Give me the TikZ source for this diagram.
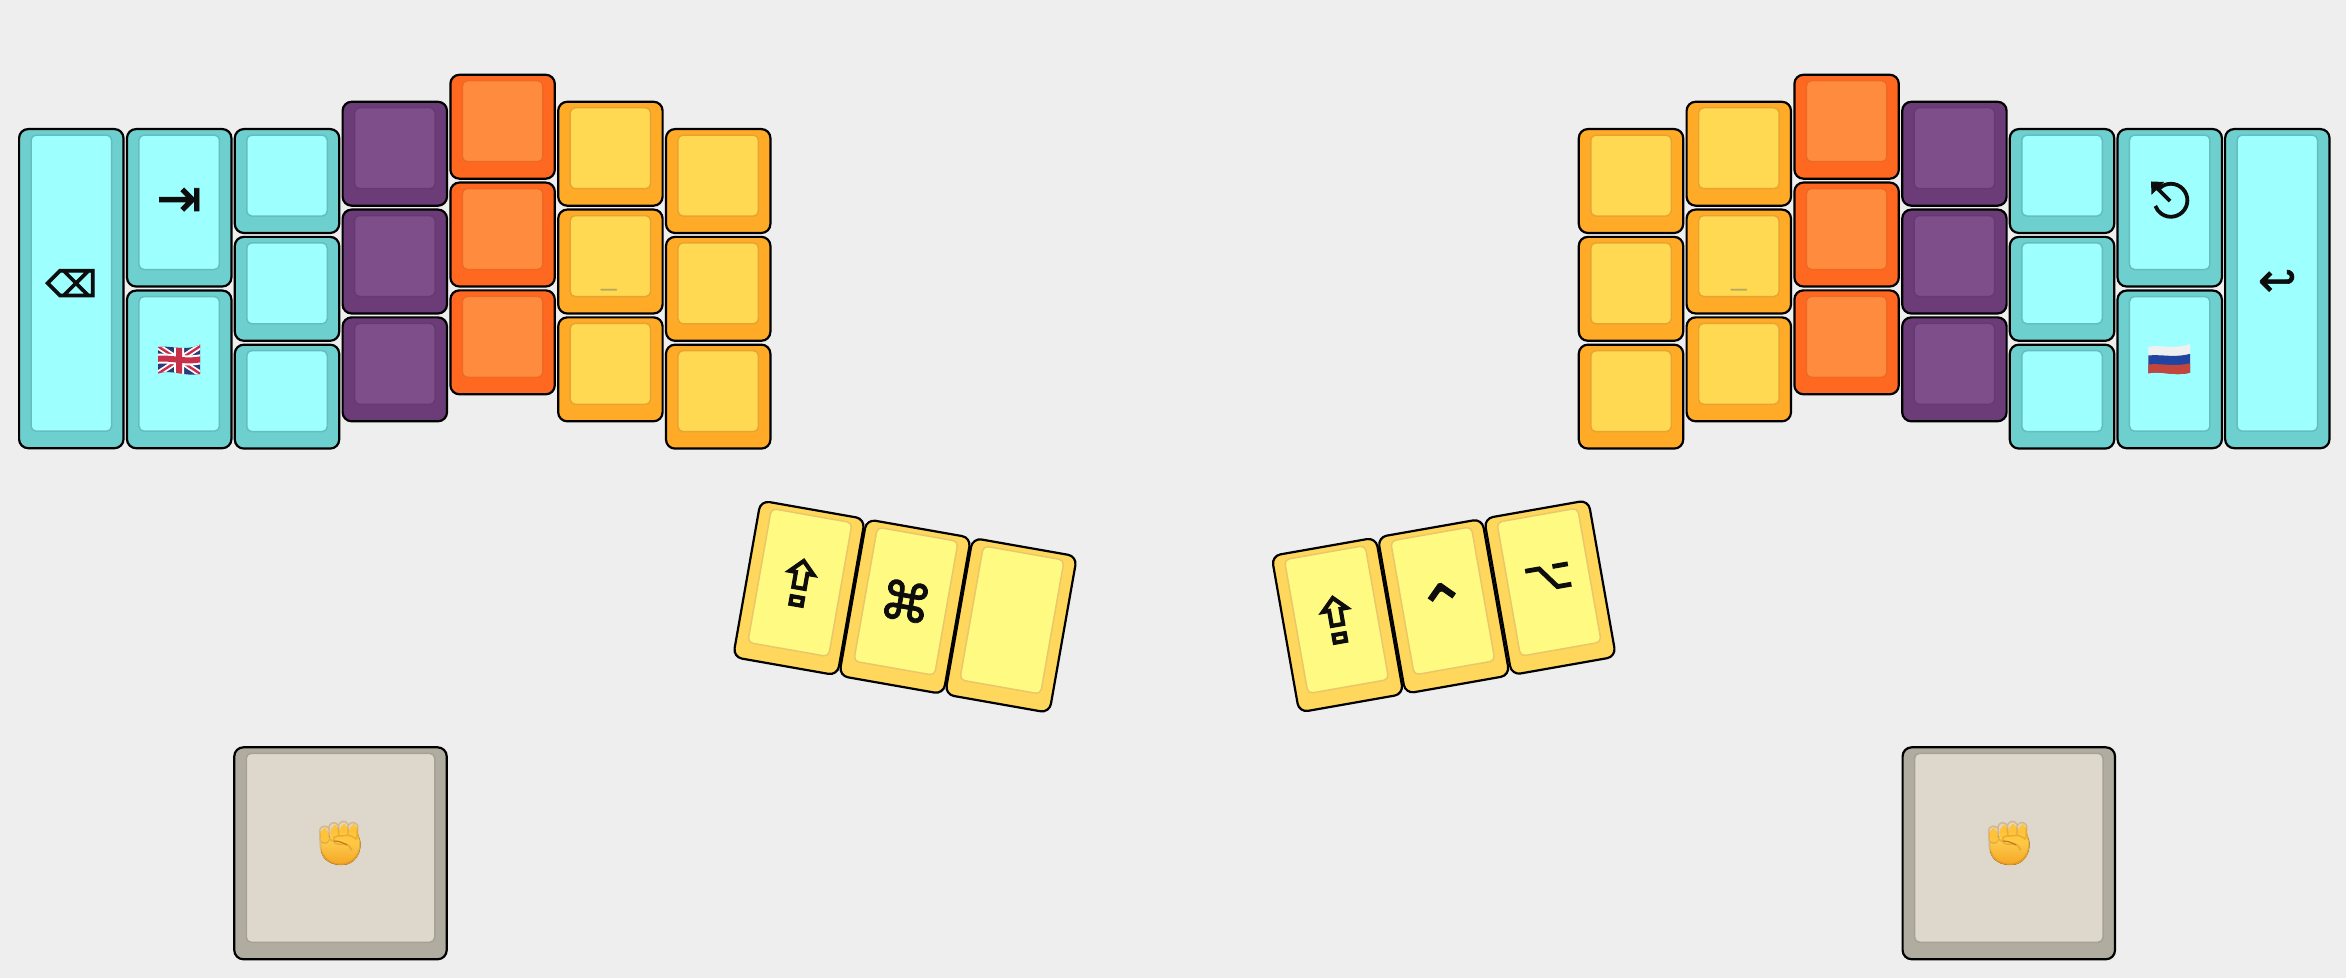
\documentclass[tikz,border=0pt]{standalone}
\usepackage{fontspec}
\usetikzlibrary{calc,arrows.meta}
\newfontfamily\sym[FakeBold=1.6]{DejaVu Sans}
\newfontfamily\symb[FakeBold=3]{DejaVu Sans}
\newfontfamily\emo{Noto Emoji}
\newfontfamily\lib{Liberation Sans}
\definecolor{bgc}{HTML}{EEEEEE}
\definecolor{cyO}{HTML}{6ECFCF}\definecolor{cyI}{HTML}{9EFFFF}\definecolor{cyB}{HTML}{66BDBD}
\definecolor{puO}{HTML}{6B3C78}\definecolor{puI}{HTML}{7E4E8A}\definecolor{puB}{HTML}{653A72}
\definecolor{orO}{HTML}{FF6820}\definecolor{orI}{HTML}{FF8C3E}\definecolor{orB}{HTML}{EE6A24}
\definecolor{yeO}{HTML}{FFAB28}\definecolor{yeI}{HTML}{FFD952}\definecolor{yeB}{HTML}{E8A432}
\definecolor{ltO}{HTML}{FFD75C}\definecolor{ltI}{HTML}{FFFA82}\definecolor{ltB}{HTML}{E8C86A}
\definecolor{stO}{HTML}{B0AC9F}\definecolor{stI}{HTML}{DED8CC}\definecolor{stB}{HTML}{A5A193}
\definecolor{FFD65A}{HTML}{FFD65A}\definecolor{F5A623}{HTML}{F5A623}
\definecolor{fingc}{HTML}{FFC33B}\definecolor{fingd}{HTML}{FFC840}\definecolor{shad}{HTML}{C77A12}
\definecolor{ukb}{HTML}{2A3B78}\definecolor{ukr}{HTML}{C8304A}
\definecolor{ruw}{HTML}{F0F0F0}\definecolor{rub}{HTML}{1F45A0}\definecolor{rur}{HTML}{C4453C}
\definecolor{usc}{HTML}{B5A85A}
\definecolor{ink}{HTML}{0D0D0D}
\tikzset{
  keybody/.style={draw=black,line width=1.1pt,rounded corners=4.5pt,outer sep=0pt,inner sep=0pt},
  keycap/.style={line width=0.75pt,rounded corners=2.5pt,outer sep=0pt,inner sep=0pt,text=ink,align=center},
  uscore/.style={inner sep=0pt,anchor=base,text=usc},
}
\newcommand\gl[2]{{\sym\fontsize{#1}{#1}\selectfont #2}}
\newcommand\glb[2]{{\symb\fontsize{#1}{#1}\selectfont #2}}
% name, cx, cy, w, h, rot, colour, label
\newcommand\kk[8]{%
  \begin{scope}[shift={(#2,{978-#3})},rotate=#6,transform shape]
    \node[keybody,fill=#7O,minimum width={(#4-1.6)*0.5pt},minimum height={(#5-1.6)*0.5pt}] (#1) at (0,0) {};
    \node[keycap,fill=#7I,draw=#7B,minimum width={(#4-25.5)*0.5pt},minimum height={(#5-24.5)*0.5pt}] (#1-cap) at (0,5.5) {#8};
  \end{scope}}
% name, left, top, w, h, colour, label
\newcommand\sq[7]{\pgfmathsetmacro\kcx{#2+#4/2}\pgfmathsetmacro\kcy{#3+#5/2}\kk{#1}{\kcx}{\kcy}{#4}{#5}{0}{#6}{#7}}
\newcommand\threecol[4]{%
  \sq{#1a}{#2}{#3}{106}{105.5}{#4}{}%
  \pgfmathsetmacro\kyb{#3+107.8}\sq{#1b}{#2}{\kyb}{106}{105.5}{#4}{}%
  \pgfmathsetmacro\kyc{#3+215.6}\sq{#1c}{#2}{\kyc}{106}{105.5}{#4}{}}
\newcommand\fist[3]{%
  \begin{scope}[shift={(#2,{978-#3})}]
    \fill[top color=FFD65A,bottom color=F5A623] (-19,6) -- (-19,-8) .. controls (-17,-18) and (-8,-22) .. (2,-22) .. controls (14,-22) and (20.5,-12) .. (20.5,-1) .. controls (20.5,4) and (18,6) .. (18,9) -- cycle;
    \foreach \fx/\fy/\fh in {-20/-3/14,-9.5/-1/15,-0.5/0/15,9/0/14.5}{
      \fill[rounded corners=3.5pt,fill=fingc] (\fx,{\fy+4}) rectangle ++(9.2,\fh);}
    \fill[fill=fingd] (-8,9) .. controls (0,11) and (10,9) .. (18,9) .. controls (20,5) and (19,0) .. (15,-2) .. controls (10,-4) and (6,2) .. (3,3) .. controls (-2,4) and (-7,4) .. (-8,9) -- cycle;
    \draw[line width=0.6pt,draw=shad] (-6,2) .. controls (-1,2) and (4,0) .. (7,-2);
  \end{scope}}
\begin{document}
\begin{tikzpicture}[x=0.5pt,y=0.5pt]
\useasboundingbox (0,0) rectangle (2346,978);
\fill[bgc] (0,0) rectangle (2346,978);
% left hand
\sq{l0}{18.3}{128.3}{106}{320.7}{cy}{\glb{18}{⌫}}
\sq{l1a}{126.2}{128.3}{106}{159}{cy}{\gl{27}{⇥}}
\sq{l1b}{126.2}{289.8}{106}{159.2}{cy}{}
\threecol{l2}{234}{128.3}{cy}
\threecol{l3}{341.8}{101}{pu}
\threecol{l4}{449.6}{74}{or}
\threecol{l5}{557.4}{101}{ye}
\threecol{l6}{665.2}{128.3}{ye}
\node[uscore] (lus) at (609,{978-286}) {\lib\fontsize{14}{14}\selectfont \_};
% right hand
\threecol{r0}{1578}{128.3}{ye}
\threecol{r1}{1685.8}{101}{ye}
\threecol{r2}{1793.6}{74}{or}
\threecol{r3}{1901.4}{101}{pu}
\threecol{r4}{2009}{128.3}{cy}
\sq{r5a}{2116.7}{128.3}{106}{159}{cy}{}
\sq{r5b}{2116.7}{289.8}{106}{159.2}{cy}{}
\sq{r6}{2224.3}{128.3}{106}{320.7}{cy}{\gl{23}{↩}}
\node[uscore] (rus) at (1738.8,{978-286}) {\lib\fontsize{14}{14}\selectfont \_};
% escape symbol (no listed family has it)
\begin{scope}[shift={(2169,{978-200})}]
  \draw[ink,line width=1.9pt] (135:16.5) ++(0,-2.5) arc[start angle=145,delta angle=-305,radius=16.5];
  \draw[ink,line width=1.9pt] (1,-1) -- (-12,12);
  \fill[ink] (-18,18.5) -- (-17.5,5) -- (-5,18) -- cycle;
\end{scope}
% thumbs
\kk{lt1}{799}{588}{107.5}{160.5}{-10}{lt}{\gl{32}{⇪}}
\kk{lt2}{905}{606.7}{107.5}{160.5}{-10}{lt}{\gl{26}{⌘}}
\kk{lt3}{1011}{625.4}{107.5}{160.5}{-10}{lt}{}
\kk{rt1}{1337.5}{625}{107.5}{160.5}{10}{lt}{\gl{32}{⇪}}
\kk{rt2}{1443.7}{606.3}{107.5}{160.5}{10}{lt}{\raisebox{0pt}[\dimexpr\height+6pt][\depth]{\gl{32}{⌃}}}
\kk{rt3}{1550}{587.6}{107.5}{160.5}{10}{lt}{\raisebox{0pt}[\height][\dimexpr\depth+4.5pt]{\glb{21}{⌥}}}
% big keys
\kk{lb}{340.5}{853.3}{214}{213.5}{0}{st}{}
\kk{rb}{2008.8}{853.3}{214}{213.5}{0}{st}{}
\fist{lfist}{340}{843}
\fist{rfist}{2009}{843}
\node[inner sep=0pt,text=shad,opacity=.35] (lfg) at (340,{978-843}) {\emo\fontsize{22}{22}\selectfont ✊};
\node[inner sep=0pt,text=shad,opacity=.35] (rfg) at (2009,{978-843}) {\emo\fontsize{22}{22}\selectfont ✊};
% UK flag
\begin{scope}[shift={(158,{978-347})}]
  \clip (0,0) .. controls (14,2) and (26,-5) .. (42,2.5) -- (42,-27) .. controls (26,-30) and (14,-22) .. (0,-26.5) -- cycle;
  \fill[fill=ukb] (-2,6) rectangle (44,-32);
  \draw[white,line width=3pt] (-2,2) -- (44,-28) (-2,-28) -- (44,2);
  \draw[ukr,line width=1.2pt] (-2,2) -- (44,-28) (-2,-28) -- (44,2);
  \draw[white,line width=5pt] (21,6) -- (21,-32) (-2,-12) .. controls (14,-10) and (26,-16) .. (44,-12);
  \draw[ukr,line width=3pt] (21,6) -- (21,-32) (-2,-12) .. controls (14,-10) and (26,-16) .. (44,-12);
\end{scope}
% Russian flag
\begin{scope}[shift={(2148.3,{978-346.7})}]
  \clip (0,0) .. controls (14,2) and (26,-3) .. (41.7,2.7) -- (41.7,-26) .. controls (26,-30) and (14,-24) .. (0,-26.6) -- cycle;
  \fill[fill=ruw] (-2,6) rectangle (44,-32);
  \fill[fill=rub] (-2,-9) .. controls (14,-7) and (26,-12) .. (44,-6.5) -- (44,-32) -- (-2,-32) -- cycle;
  \fill[fill=rur] (-2,-18) .. controls (14,-16) and (26,-21) .. (44,-16) -- (44,-32) -- (-2,-32) -- cycle;
\end{scope}
\end{tikzpicture}
\end{document}
